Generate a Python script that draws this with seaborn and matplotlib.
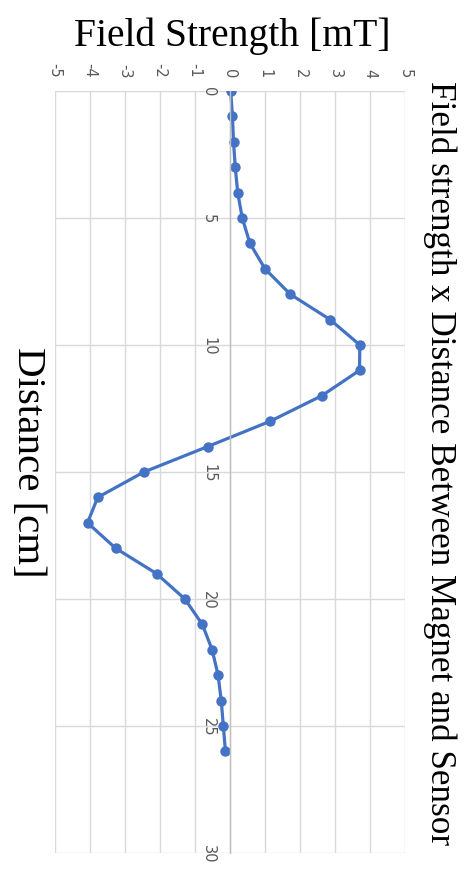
import matplotlib
matplotlib.use("Agg")
import matplotlib.pyplot as plt
import seaborn as sns
import pandas as pd

distance = list(range(0, 27))
field = [0.02, 0.07, 0.10, 0.15, 0.22, 0.35, 0.57, 1.00, 1.72, 2.86, 3.71, 3.70,
         2.62, 1.15, -0.64, -2.46, -3.78, -4.07, -3.27, -2.10, -1.29, -0.79,
         -0.51, -0.34, -0.25, -0.19, -0.13]
field_ticks = list(range(-5, 6))
distance_ticks = list(range(0, 31, 5))

df = pd.DataFrame({"Distance": distance, "Field": field})

sns.set_theme(style="white")
plt.rcParams["axes.unicode_minus"] = False
fig = plt.figure(figsize=(4.74, 8.79), dpi=100)
ax = fig.add_axes([55/474, 1-854/879, 350/474, 762/879])

sns.lineplot(data=df, x="Field", y="Distance", sort=False, ax=ax, color="#4472C4",
             linewidth=2.3, marker="o", markersize=7.5, markeredgewidth=0)

ax.set_xlim(-5, 5)
ax.set_ylim(30, 0)
ax.set_xticks(field_ticks)
ax.set_yticks(distance_ticks)
ax.xaxis.tick_top()
ax.grid(True, color="#D9D9D9", linewidth=1)
ax.set_axisbelow(True)
for s in ["top", "bottom", "right"]:
    ax.spines[s].set_visible(False)
ax.spines["left"].set_position(("data", 0))
ax.spines["left"].set_color("#BFBFBF")
ax.spines["left"].set_linewidth(1)
ax.tick_params(axis="x", length=0, pad=10, labelsize=10.5, labelcolor="#595959", rotation=270)
ax.tick_params(axis="y", length=0, pad=10, labelsize=10.5, labelcolor="#595959", rotation=270)
for lab in ax.get_yticklabels():
    lab.set_verticalalignment("center")
ax.set_xlabel("")
ax.set_ylabel("")

fig.text(232/474, 1-36/879, "Field Strength [mT]", ha="center", va="center",
         fontsize=28.5, family="Liberation Serif", color="black")
fig.text(27/474, 1-462/879, "Distance [cm]", ha="center", va="center", rotation=270,
         fontsize=29.5, family="Liberation Serif", color="black")
fig.text(440/474, 1-463/879, "Field strength x Distance Between Magnet and Sensor",
         ha="center", va="center", rotation=270, fontsize=25.3, family="Liberation Serif",
         color="black")

fig.savefig("out.png", dpi=100)
